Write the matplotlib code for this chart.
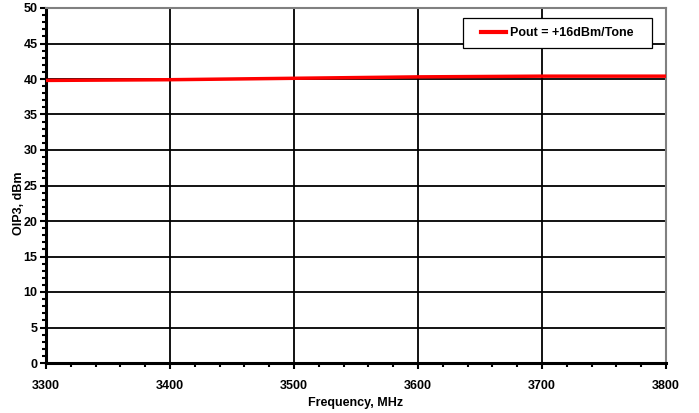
import matplotlib
matplotlib.use("Agg")
import matplotlib.pyplot as plt
from matplotlib.ticker import MultipleLocator
from matplotlib.patches import Rectangle

plt.rcParams['font.family'] = ['Liberation Sans', 'DejaVu Sans']

freq = [3300, 3400, 3500, 3600, 3700, 3800]
oip3 = [39.8, 39.9, 40.1, 40.3, 40.4, 40.4]
series_label = "Pout = +16dBm/Tone"
xlabel = "Frequency, MHz"
ylabel = "OIP3, dBm"

fig = plt.figure(figsize=(6.99, 4.13), dpi=100)
ax = fig.add_axes([46/699, 50/413, 620/699, 355/413])

ax.plot(freq, oip3, color='#ff0000', lw=2.5, label=series_label, zorder=3)
ax.set_xlim(3300, 3800)
ax.set_ylim(0, 50)
ax.xaxis.set_major_locator(MultipleLocator(100))
ax.xaxis.set_minor_locator(MultipleLocator(20))
ax.yaxis.set_major_locator(MultipleLocator(5))
ax.yaxis.set_minor_locator(MultipleLocator(1))
ax.grid(True, which='major', color='black', lw=1.3)
ax.tick_params(which='both', direction='out', width=1.5, labelsize=9)
ax.tick_params(which='major', length=4)
ax.tick_params(which='minor', length=3)
for lab in ax.get_xticklabels() + ax.get_yticklabels():
    lab.set_fontweight('bold')
ax.tick_params(axis='x', pad=8)
ax.tick_params(axis='y', pad=2)
ax.spines['left'].set_linewidth(2.2)
ax.spines['bottom'].set_linewidth(2.2)
ax.spines['top'].set_color('#808080')
ax.spines['right'].set_color('#808080')
ax.spines['top'].set_linewidth(1.5)
ax.spines['right'].set_linewidth(1.5)

ax.set_xlabel(xlabel, fontsize=9, fontweight='bold')
ax.xaxis.set_label_coords(0.5, -40/355)
ax.set_ylabel(ylabel, fontsize=9, fontweight='bold')
ax.yaxis.set_label_coords(-27/620, 0.45)
ax.yaxis.label.set_va('center')
ax.xaxis.label.set_va('center')

# legend frame box
bx0, bx1 = 417/620, 606/620
by0, by1 = 315/355, 345/355
frame = Rectangle((bx0, by0), bx1 - bx0, by1 - by0, transform=ax.transAxes,
                  facecolor='white', edgecolor='black', lw=0.9, zorder=5, clip_on=False)
ax.add_patch(frame)
leg = ax.legend(loc='center', bbox_to_anchor=((bx0 + bx1) / 2, (by0 + by1) / 2),
                frameon=False, prop={'weight': 'bold', 'size': 9},
                handlelength=2.0, handletextpad=0.3, borderpad=0, borderaxespad=0)
leg.set_zorder(6)
for h in leg.get_lines():
    h.set_linewidth(3)

fig.savefig("out.png", dpi=100)
